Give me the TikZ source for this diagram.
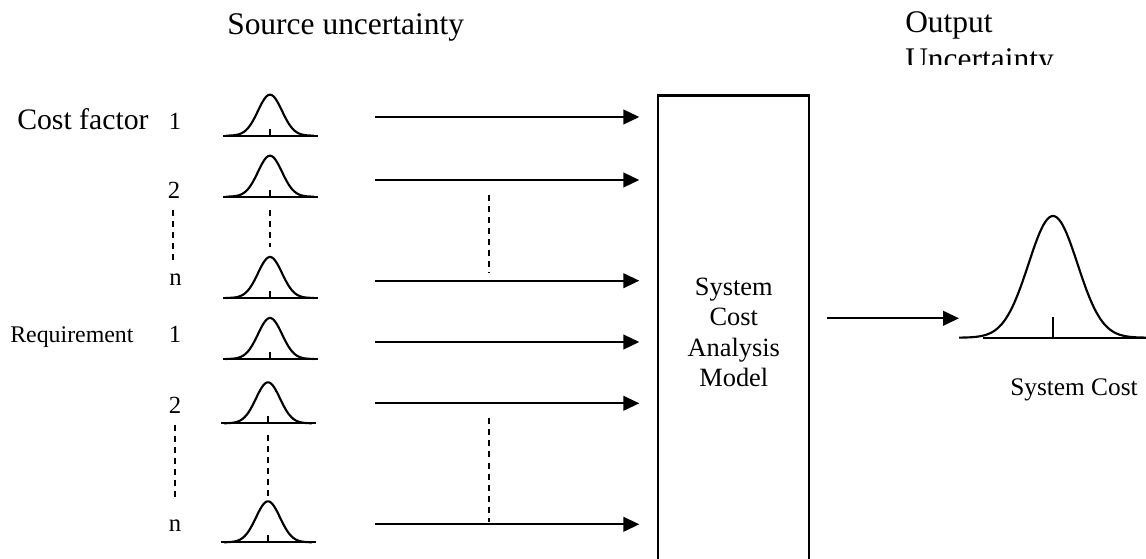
\documentclass[tikz,border=0pt]{standalone}
\usepackage{fontspec}
\setmainfont{Liberation Serif}
\usetikzlibrary{arrows.meta}
\tikzset{
  curve/.style={line width=1.6pt, line join=round},
  arr/.style={line width=1.6pt, -{Triangle[length=12pt,width=11pt]}},
  dsh/.style={line width=1.6pt, dash pattern=on 4.5pt off 3.8pt},
  lbl/.style={inner sep=0pt, anchor=base west},
  num/.style={inner sep=0pt, anchor=base, font=\fontsize{18.5}{21}\selectfont},
  smallbell/.pic={
    \draw[curve] (-47,0) -- (48,0);
    \draw[curve] plot[domain=-44:44, samples=70, smooth] (\x,{-41*exp(-((\x)*(\x))/288)});
    \draw[curve] (0,0) -- (0,-7);
  },
  bigbell/.pic={
    \draw[curve] (-70,0) -- (100,0);
    \draw[curve] plot[domain=-94:100, samples=100, smooth] (\x,{-121.7*exp(-((\x)*(\x))/1200)});
    \draw[curve] (0,0) -- (0,-20.5);
  }
}
\begin{document}
\begin{tikzpicture}[x=0.75pt,y=-0.75pt]
\useasboundingbox (0,0) rectangle (1146,559);
\clip (0,0) rectangle (1146,559);

% titles
\node[lbl, font=\fontsize{23.6}{28}\selectfont] (src) at (227,35) {Source uncertainty};
\node[lbl, font=\fontsize{23.6}{28}\selectfont] (out) at (905,33) {Output};
\begin{scope}
  \clip (880,0) rectangle (1110,65);
  \node[lbl, font=\fontsize{23.6}{28}\selectfont] (unc) at (905,69.7) {Uncertainty};
\end{scope}

% row labels
\node[lbl, font=\fontsize{22.3}{26}\selectfont] (cf) at (17,129.3) {Cost factor};
\node[lbl, font=\fontsize{17.9}{21}\selectfont] (rq) at (10,342.7) {Requirement};
\node[num] (n1) at (175,129.3) {1};
\node[num] (n2) at (174,198.3) {2};
\node[num] (n3) at (175.5,286) {n};
\node[num] (n4) at (175,342.7) {1};
\node[num] (n5) at (175,413.3) {2};
\node[num] (n6) at (175,531.7) {n};

% small distributions
\pic (b1) at (270,135.7) {smallbell};
\pic (b2) at (270,196.7) {smallbell};
\pic (b3) at (270,298) {smallbell};
\pic (b4) at (270,359) {smallbell};
\pic (b5) at (268,423.3) {smallbell};
\pic (b6) at (268,542.3) {smallbell};

% dashed continuation marks
\draw[dsh] (173,210) -- (173,260);
\draw[dsh] (175,425) -- (175,498);
\draw[dsh] (270,210) -- (270,247);
\draw[dsh] (268,435) -- (268,500);
\draw[dsh] (489,195) -- (489,273.3);
\draw[dsh] (489,418.3) -- (489,521.7);

% model box
\node[draw, line width=1.6pt, minimum width=113.25pt, minimum height=355.5pt,
      inner sep=0pt, outer sep=0pt, align=center,
      font=\fontsize{19.8}{22.7}\selectfont] (model) at (733.8,332.5)
      {System\\Cost\\Analysis\\Model};

% input arrows
\coordinate (s1) at (375,117);
\coordinate (s2) at (375,180);
\coordinate (s3) at (375,280.7);
\coordinate (s4) at (375,342);
\coordinate (s5) at (375,403.3);
\coordinate (s6) at (375,524.3);
\foreach \i in {1,...,6}{
  \draw[arr, shorten >=14.25pt] (s\i) -- (s\i -| model.west);
}

% output
\coordinate (outtip) at (959,318.3);
\draw[arr, shorten <=13.5pt] (model.east |- outtip) -- (outtip);
\pic (big) at (1053,337.7) {bigbell};
\node[lbl, font=\fontsize{19}{22}\selectfont] (sc) at (1010,396) {System Cost};
\end{tikzpicture}
\end{document}
